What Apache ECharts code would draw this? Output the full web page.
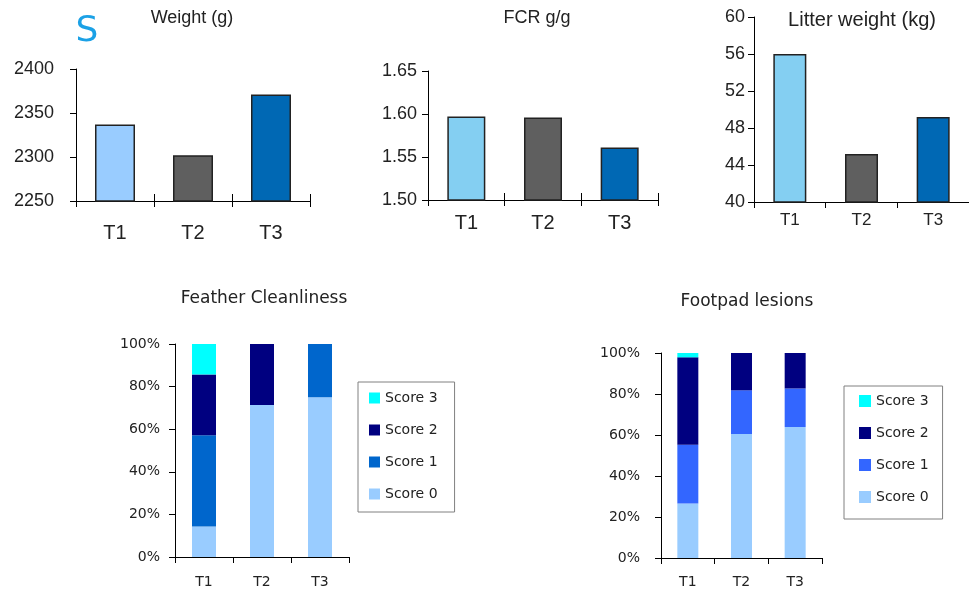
<!DOCTYPE html>
<html>
<head>
<meta charset="utf-8">
<script src="https://cdn.jsdelivr.net/npm/echarts@6/dist/echarts.min.js"></script>
<style>
html,body{margin:0;padding:0;background:#fff;}
#chart{width:969px;height:589px;}
</style>
</head>
<body>
<div id="chart"></div>
<script>
// ---- data ----
const categories = ['T1', 'T2', 'T3'];
const weightValues = [2337, 2302, 2371];
const fcrValues = [1.597, 1.596, 1.561];
const litterValues = [56.0, 45.2, 49.2];
const weightTicks = [2250, 2400, 50];
const fcrTicks = [1.50, 1.65, 0.05];
const litterTicks = [40, 60, 4];
const scoreNames = ['Score 0', 'Score 1', 'Score 2', 'Score 3'];
const featherScore0 = [14.3, 71.4, 75.0];
const featherScore1 = [42.9, 0, 25.0];
const featherScore2 = [28.5, 28.6, 0];
const featherScore3 = [14.3, 0, 0];
const footpadScore0 = [26.6, 60.5, 63.9];
const footpadScore1 = [28.6, 21.3, 18.8];
const footpadScore2 = [42.7, 18.2, 17.3];
const footpadScore3 = [2.1, 0, 0];

// ---- styles ----
const weightColors = ['#99ccff', '#5f5f5f', '#0068b4'];
const fcrColors = ['#84cff2', '#5f5f5f', '#0068b4'];
const litterColors = ['#84cff2', '#5f5f5f', '#0068b4'];
const featherColors = ['#99ccff', '#0066cc', '#000080', '#00ffff'];
const footpadColors = ['#99ccff', '#3366ff', '#000080', '#00ffff'];
const topFont = 'Liberation Sans, Arial, sans-serif';
const botFont = 'DejaVu Sans, Tahoma, sans-serif';
const ink = '#222';

const chart = echarts.init(document.getElementById('chart'), null, {renderer: 'canvas'});

const grids = [
  {left: 76, top: 69, width: 234, height: 132},
  {left: 428, top: 71, width: 230, height: 129},
  {left: 754, top: 17, width: 216, height: 185},
  {left: 175, top: 344, width: 174, height: 214},
  {left: 661, top: 353, width: 161, height: 207},
  // overlay grids (same boxes as 0 and 1) that carry the upward half of the crossing ticks
  {left: 76, top: 69, width: 234, height: 132},
  {left: 428, top: 71, width: 230, height: 129}
];

function yAx(gi, ticks, fs, margin, font, fmt) {
  return {
    type: 'value', gridIndex: gi, min: ticks[0], max: ticks[1], interval: ticks[2],
    axisLine: {show: true, lineStyle: {color: '#000', width: 1}},
    axisTick: {show: true, length: 6, lineStyle: {color: '#000'}},
    splitLine: {show: false},
    axisLabel: {fontSize: fs, color: ink, fontFamily: font, margin: margin, formatter: fmt}
  };
}
function yHidden(gi) {
  return {type: 'value', gridIndex: gi, min: 0, max: 1, show: false};
}
function xAx(gi, fs, margin, font) {
  return {
    type: 'category', gridIndex: gi, data: categories,
    axisLine: {show: true, onZero: false, lineStyle: {color: '#000', width: 1}},
    axisTick: {show: true, length: 6, lineStyle: {color: '#000'}},
    axisLabel: {fontSize: fs, color: ink, fontFamily: font, margin: margin}
  };
}
function xInner(gi) {
  return {
    type: 'category', gridIndex: gi, data: categories, position: 'bottom',
    axisLine: {show: false, onZero: false},
    axisTick: {show: true, inside: true, length: 7, lineStyle: {color: '#000'}},
    axisLabel: {show: false}
  };
}

const xAxes = [
  xAx(0, 20, 22, topFont),
  xAx(1, 20, 13, topFont),
  xAx(2, 17, 10, topFont),
  xAx(3, 14, 18, botFont),
  xAx(4, 14, 17, botFont),
  xInner(5),
  xInner(6)
];
const yAxes = [
  yAx(0, weightTicks, 18, 22, topFont, v => String(v)),
  yAx(1, fcrTicks, 18, 11, topFont, v => v.toFixed(2)),
  yAx(2, litterTicks, 18, 9, topFont, v => String(v)),
  yAx(3, [0, 100, 20], 14, 15, botFont, '{value}%'),
  yAx(4, [0, 100, 20], 14, 21, botFont, '{value}%'),
  yHidden(5),
  yHidden(6)
];

function colored(values, colors) {
  return values.map((v, i) => ({value: v, itemStyle: {color: colors[i]}}));
}
const barBorder = {borderColor: '#222', borderWidth: 1.5};

const series = [
  {type: 'bar', xAxisIndex: 0, yAxisIndex: 0, barWidth: 40, data: colored(weightValues, weightColors), itemStyle: barBorder, silent: true},
  {type: 'bar', xAxisIndex: 1, yAxisIndex: 1, barWidth: 38, data: colored(fcrValues, fcrColors), itemStyle: barBorder, silent: true},
  {type: 'bar', xAxisIndex: 2, yAxisIndex: 2, barWidth: 33, data: colored(litterValues, litterColors), itemStyle: barBorder, silent: true}
];
const featherData = [featherScore0, featherScore1, featherScore2, featherScore3];
const footpadData = [footpadScore0, footpadScore1, footpadScore2, footpadScore3];
scoreNames.forEach((n, i) => {
  series.push({type: 'bar', name: 'F|' + n, stack: 'feather', xAxisIndex: 3, yAxisIndex: 3, barWidth: 24,
    data: featherData[i], itemStyle: {color: featherColors[i]}, silent: true});
});
scoreNames.forEach((n, i) => {
  series.push({type: 'bar', name: 'P|' + n, stack: 'footpad', xAxisIndex: 4, yAxisIndex: 4, barWidth: 21,
    data: footpadData[i], itemStyle: {color: footpadColors[i]}, silent: true});
});

function legend(prefix, left, top, pad, iconSize) {
  return {
    orient: 'vertical', left: left, top: top, padding: pad, itemGap: 18,
    itemWidth: iconSize, itemHeight: iconSize, icon: 'rect',
    borderColor: '#808080', borderWidth: 1, selectedMode: false,
    data: scoreNames.slice().reverse().map(n => prefix + n),
    formatter: name => name.split('|')[1],
    textStyle: {fontSize: 14, color: ink, fontFamily: botFont}
  };
}

const titles = [
  {text: 'Weight (g)', x: 192, y: 18, fs: 18, font: topFont},
  {text: 'FCR g/g', x: 537, y: 18, fs: 18, font: topFont},
  {text: 'Litter weight (kg)', x: 862, y: 20, fs: 20, font: topFont},
  {text: 'Feather Cleanliness', x: 264, y: 299, fs: 17, font: botFont},
  {text: 'Footpad lesions', x: 747, y: 302, fs: 17, font: botFont}
];

chart.setOption({
  animation: false,
  backgroundColor: '#fff',
  grid: grids,
  xAxis: xAxes,
  yAxis: yAxes,
  series: series,
  legend: [
    legend('F|', 358, 382, [9, 17, 11, 11], 11),
    legend('P|', 844, 386, [8, 14, 15, 15], 12)
  ],
  graphic: titles.map(t => ({
    type: 'text', x: t.x, y: t.y, silent: true,
    style: {text: t.text, fontSize: t.fs, fontFamily: t.font, fill: ink, align: 'center', verticalAlign: 'middle'}
  })).concat([{
    type: 'text', x: 87, y: 32, silent: true,
    style: {text: 'S', fontSize: 36, fontFamily: 'DejaVu Sans, sans-serif', fill: '#1ba1e6', align: 'center', verticalAlign: 'middle'}
  }])
});
</script>
</body>
</html>
